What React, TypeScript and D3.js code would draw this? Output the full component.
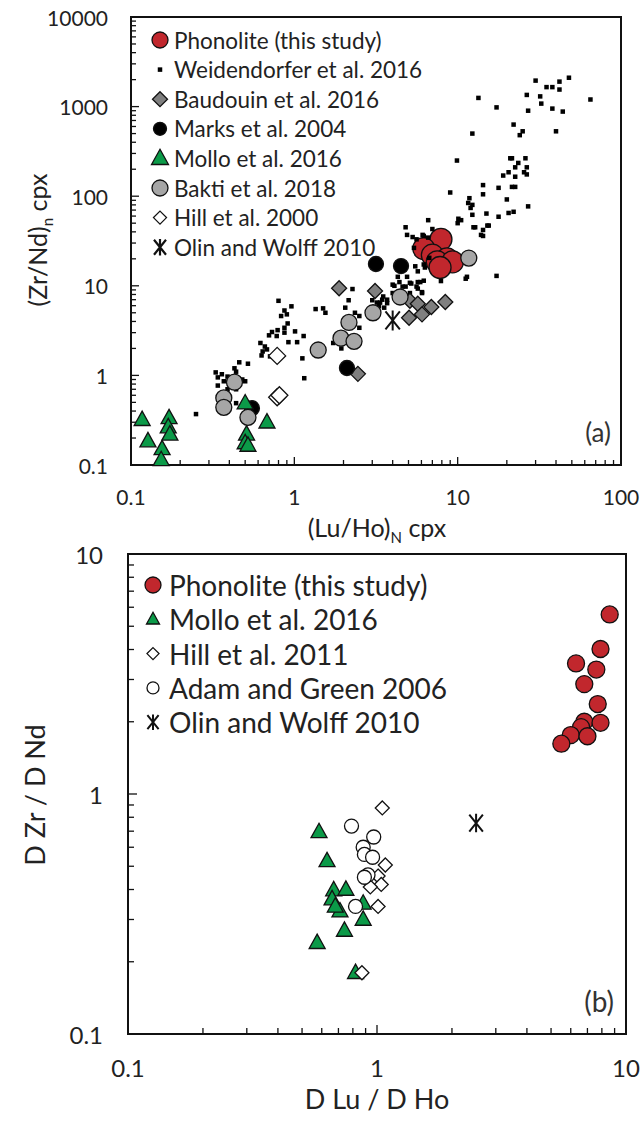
import * as d3 from 'd3';

const FONT = 'Lato, "Noto Sans", sans-serif';

// ---------- panel (a): (Zr/Nd)n vs (Lu/Ho)N, cpx ----------
const phonoAX = [7.9, 6.2, 7.0, 8.6, 7.5, 9.3, 7.8];
const phonoAY = [33, 26, 22, 20, 18.5, 18.5, 16];

const weidX = [
  30, 35, 38, 42, 42, 48, 13.4, 17.3, 26.5, 32, 32.5, 27, 38, 44, 65, 22, 25, 24, 40, 12.3,
  9.9, 21, 21.5, 26, 23.5, 22.5, 26.5, 25.5, 26.5, 20.5, 19, 22.5, 14.3, 17.8, 21.5, 22.5, 9, 14.3, 20, 11.8,
  11.6, 12.3, 12, 27, 15, 12.3, 20.5, 22, 17.8, 6.6, 10.1, 10, 4.8, 12.5, 15.2, 14.3, 13.9, 5.3, 6.1, 11.4,
  17.3, 5.6, 6.6, 6.2, 5.4, 6.7, 6.3, 5.7, 7.9, 11.2, 10.5, 12.8, 14.3, 15.5, 5.5, 6.2, 4.3, 4.9, 5.1, 5.7,
  6.2, 4, 5.7, 6.05, 4.6, 3.5, 3.7, 3.3, 3.45, 3.35, 3.55, 3.7, 4, 4.1, 4.4, 4.8, 5.2, 5.6, 6.05, 5.9,
  5.1, 7, 4.9, 0.8, 0.87, 0.96, 0.83, 0.9, 0.91, 0.87, 0.79, 0.73, 0.7, 0.78, 0.87, 1.01, 1.14, 0.92, 1.04, 0.62,
  0.66, 0.64, 0.68, 0.63, 0.71, 1.35, 1.5, 1.55, 1.12, 1.15, 0.46, 0.52, 0.43, 0.44, 0.33, 0.36, 0.39, 0.34, 0.37, 0.34,
  0.5, 0.48, 0.4, 0.44, 0.39, 0.44, 0.25, 2.27, 2.15, 2.05, 2.35, 2.5, 2.5, 1.73, 1.94, 3, 3.2,
];
const weidY = [
  1950, 1650, 1650, 1900, 1550, 2100, 1250, 980, 1350, 1300, 1080, 900, 950, 880, 1200, 630, 530, 480, 530, 500,
  250, 265, 265, 265, 235, 210, 210, 185, 175, 185, 170, 165, 133, 124, 127, 127, 110, 105, 92, 95,
  84, 80, 74, 77, 64, 62, 65, 67, 59, 54, 56, 50, 45, 45, 47, 42, 37, 35, 37, 12.6,
  12.9, 33, 34.5, 36, 26.5, 20.5, 16, 14.5, 11.3, 12, 54, 45, 36, 47, 16.5, 17.3, 12.6, 12.6, 10.8, 11,
  11.4, 10.3, 9.3, 8.5, 9.8, 7.6, 6.4, 5.9, 7, 6.5, 5.7, 7, 8.3, 10, 11, 9.8, 10.6, 9.8, 8.3, 11,
  8.3, 43, 37, 6.8, 5.3, 5.9, 4.6, 4.8, 3.8, 3.4, 3.2, 3.05, 2.8, 2.75, 3, 3.1, 2.75, 2.35, 2.35, 2.3,
  2.1, 1.85, 1.95, 1.67, 1.63, 5.5, 5.6, 5, 1.55, 0.93, 1.4, 1.35, 1.2, 1.1, 1.08, 1.03, 0.97, 0.95, 0.86, 0.77,
  0.86, 0.9, 0.81, 0.7, 0.7, 0.49, 0.37, 9.2, 6.9, 5.7, 5, 4.6, 3.4, 2.3, 2, 6.9, 6.5,
];

const baudX = [1.88, 3.12, 5.1, 5.7, 6.9, 8.4, 6.05, 5.04, 2.45];
const baudY = [9.4, 8.75, 6.8, 6.3, 5.8, 6.6, 4.8, 4.4, 1.04];

const marksX = [3.16, 4.5, 2.1, 0.55];
const marksY = [17.5, 16.6, 1.21, 0.43];

const molloAX = [0.117, 0.127, 0.155, 0.153, 0.171, 0.169, 0.173, 0.5, 0.51, 0.5, 0.52, 0.68];
const molloAY = [0.32, 0.185, 0.151, 0.114, 0.335, 0.265, 0.22, 0.49, 0.22, 0.176, 0.165, 0.3];

const baktiX = [0.43, 0.37, 0.37, 0.52, 1.4, 1.93, 2.32, 2.16, 3.03, 4.44, 11.7];
const baktiY = [0.84, 0.56, 0.44, 0.34, 1.92, 2.6, 2.4, 3.9, 5.0, 7.5, 20.4];

const hill2000X = [0.785, 0.785, 0.81];
const hill2000Y = [1.65, 0.57, 0.6];

const olinAX = [4.0];
const olinAY = [4.1];

// ---------- panel (b): D Zr / D Nd vs D Lu / D Ho ----------
const phonoBX = [8.6, 7.9, 6.3, 7.6, 6.8, 7.7, 6.8, 7.9, 6.6, 6.0, 7.0, 5.5];
const phonoBY = [5.6, 4.02, 3.5, 3.3, 2.87, 2.37, 2.0, 1.98, 1.9, 1.76, 1.74, 1.62];

const molloBX = [0.585, 0.63, 0.67, 0.75, 0.66, 0.71, 0.88, 0.88, 0.74, 0.575, 0.82, 0.68];
const molloBY = [0.695, 0.526, 0.398, 0.4, 0.365, 0.325, 0.35, 0.3, 0.27, 0.24, 0.18, 0.34];

const hill2011X = [1.05, 1.08, 1.01, 1.04, 0.94, 1.01, 0.87];
const hill2011Y = [0.875, 0.506, 0.455, 0.42, 0.41, 0.34, 0.18];

const adamX = [0.79, 0.97, 0.88, 0.89, 0.96, 0.92, 0.89, 0.82];
const adamY = [0.735, 0.662, 0.6, 0.56, 0.545, 0.46, 0.45, 0.34];

const olinBX = [2.5];
const olinBY = [0.757];

const legendA = [
  'Phonolite (this study)', 'Weidendorfer et al. 2016', 'Baudouin et al. 2016', 'Marks et al. 2004',
  'Mollo et al. 2016', 'Bakti et al. 2018', 'Hill et al. 2000', 'Olin and Wolff 2010',
];
const legendB = [
  'Phonolite (this study)', 'Mollo et al. 2016', 'Hill et al. 2011', 'Adam and Green 2006', 'Olin and Wolff 2010',
];

const ticksAX = [0.1, 1, 10, 100];
const ticksAY = [0.1, 1, 10, 100, 1000, 10000];
const ticksBX = [0.1, 1, 10];
const ticksBY = [0.1, 1, 10];

const RED = '#c1272d';
const GREEN = '#0b9a48';

type Sym = { shape: 'circle' | 'square' | 'diamond' | 'triangle' | 'star'; size: number; fill: string; sw?: number };

function Mark({ x, y, s }: { x: number; y: number; s: Sym }) {
  const { shape, size, fill, sw = 1.3 } = s;
  if (shape === 'circle') return <circle cx={x} cy={y} r={size} fill={fill} stroke="#111" strokeWidth={sw} />;
  if (shape === 'square') return <rect x={x - size / 2} y={y - size / 2} width={size} height={size} fill={fill} />;
  if (shape === 'diamond')
    return <path d={`M${x},${y - size}L${x + size},${y}L${x},${y + size}L${x - size},${y}Z`} fill={fill} stroke="#111" strokeWidth={sw} />;
  if (shape === 'triangle') {
    const h = size * 0.9;
    return <path d={`M${x},${y - h * 0.6}L${x + size / 2},${y + h * 0.4}L${x - size / 2},${y + h * 0.4}Z`} fill={fill} stroke="#111" strokeWidth={sw} />;
  }
  const w = size * 0.8;
  return (
    <path
      d={`M${x - w},${y - size}L${x + w},${y + size}M${x - w},${y + size}L${x + w},${y - size}M${x},${y - size * 1.1}L${x},${y + size * 1.1}`}
      stroke="#111" strokeWidth={sw} fill="none"
    />
  );
}

type Series = { xs: number[]; ys: number[]; sym: Sym; legendSym: Sym };

function Frame({ x, y, majX, majY, minLen, majLen, tickFont, yLabelRight, xLabelBase }: {
  x: d3.ScaleLogarithmic<number, number>; y: d3.ScaleLogarithmic<number, number>;
  majX: number[]; majY: number[]; minLen: number; majLen: number; tickFont: number; yLabelRight: number; xLabelBase: number;
}) {
  const [x0, x1] = x.range();
  const [y0, y1] = y.range();
  return (
    <g>
      {x.ticks().map((t, i) => {
        const len = majX.some((m) => Math.abs(m - t) < 1e-9) ? majLen : minLen;
        return <line key={'xt' + i} x1={x(t)} x2={x(t)} y1={y0} y2={y0 - len} stroke="#111" strokeWidth={1.3} />;
      })}
      {y.ticks().map((t, i) => {
        const len = majY.some((m) => Math.abs(m - t) < 1e-9) ? majLen : minLen;
        return <line key={'yt' + i} x1={x0} x2={x0 + len} y1={y(t)} y2={y(t)} stroke="#111" strokeWidth={1.3} />;
      })}
      <rect x={x0} y={y1} width={x1 - x0} height={y0 - y1} fill="none" stroke="#111" strokeWidth={2} />
      {majX.map((t) => (
        <text key={'xl' + t} x={x(t)} y={xLabelBase} fontSize={tickFont} textAnchor="middle" fill="#222">{String(t)}</text>
      ))}
      {majY.map((t) => (
        <text key={'yl' + t} x={yLabelRight} y={y(t)} fontSize={tickFont} textAnchor="end" dominantBaseline="central" fill="#222">{String(t)}</text>
      ))}
    </g>
  );
}

function Legend({ series, labels, x0, tx, y0, step, font }: { series: Series[]; labels: string[]; x0: number; tx: number; y0: number; step: number; font: number }) {
  return (
    <g>
      {series.map((s, i) => (
        <g key={i}>
          <Mark x={x0} y={y0 + i * step} s={s.legendSym} />
          <text x={tx} y={y0 + i * step} fontSize={font} dominantBaseline="central" fill="#222">{labels[i]}</text>
        </g>
      ))}
    </g>
  );
}

function Points({ series, x, y }: { series: Series[]; x: d3.ScaleLogarithmic<number, number>; y: d3.ScaleLogarithmic<number, number> }) {
  return (
    <g>
      {series.map((s, si) => (
        <g key={si}>
          {s.xs.map((v, i) => <Mark key={i} x={x(v)} y={y(s.ys[i])} s={s.sym} />)}
        </g>
      ))}
    </g>
  );
}

export default function App() {
  const xA = d3.scaleLog().domain([0.1, 100]).range([131, 621]);
  const yA = d3.scaleLog().domain([0.1, 10000]).range([465, 17]);
  const xB = d3.scaleLog().domain([0.1, 10]).range([128, 626]);
  const yB = d3.scaleLog().domain([0.1, 10]).range([1034, 554]);

  const seriesA: Series[] = [
    { xs: phonoAX, ys: phonoAY, sym: { shape: 'circle', size: 11, fill: RED }, legendSym: { shape: 'circle', size: 8, fill: RED } },
    { xs: weidX, ys: weidY, sym: { shape: 'square', size: 4.5, fill: '#000' }, legendSym: { shape: 'square', size: 4.5, fill: '#000' } },
    { xs: baudX, ys: baudY, sym: { shape: 'diamond', size: 7.5, fill: '#7f7f7f' }, legendSym: { shape: 'diamond', size: 7.5, fill: '#7f7f7f' } },
    { xs: marksX, ys: marksY, sym: { shape: 'circle', size: 7.5, fill: '#000' }, legendSym: { shape: 'circle', size: 6.5, fill: '#000' } },
    { xs: molloAX, ys: molloAY, sym: { shape: 'triangle', size: 16, fill: GREEN }, legendSym: { shape: 'triangle', size: 17, fill: GREEN } },
    { xs: baktiX, ys: baktiY, sym: { shape: 'circle', size: 8, fill: '#a6a6a6' }, legendSym: { shape: 'circle', size: 8, fill: '#a6a6a6' } },
    { xs: hill2000X, ys: hill2000Y, sym: { shape: 'diamond', size: 8.5, fill: '#fff' }, legendSym: { shape: 'diamond', size: 6.5, fill: '#fff' } },
    { xs: olinAX, ys: olinAY, sym: { shape: 'star', size: 9, fill: 'none', sw: 2 }, legendSym: { shape: 'star', size: 7.5, fill: 'none', sw: 2.2 } },
  ];
  const seriesB: Series[] = [
    { xs: phonoBX, ys: phonoBY, sym: { shape: 'circle', size: 8.5, fill: RED }, legendSym: { shape: 'circle', size: 8, fill: RED } },
    { xs: molloBX, ys: molloBY, sym: { shape: 'triangle', size: 16, fill: GREEN }, legendSym: { shape: 'triangle', size: 13, fill: GREEN } },
    { xs: hill2011X, ys: hill2011Y, sym: { shape: 'diamond', size: 7, fill: '#fff' }, legendSym: { shape: 'diamond', size: 6, fill: '#fff' } },
    { xs: adamX, ys: adamY, sym: { shape: 'circle', size: 7, fill: '#fff' }, legendSym: { shape: 'circle', size: 6, fill: '#fff' } },
    { xs: olinBX, ys: olinBY, sym: { shape: 'star', size: 8.5, fill: 'none', sw: 2 }, legendSym: { shape: 'star', size: 7, fill: 'none', sw: 2 } },
  ];

  return (
    <svg width={642} height={1124} style={{ position: 'absolute', left: 0, top: 0, background: '#fff' }} fontFamily={FONT}>
      <rect width={642} height={1124} fill="#fff" />

      {/* panel (a) */}
      <Frame x={xA} y={yA} majX={ticksAX} majY={ticksAY} minLen={5} majLen={8} tickFont={21} yLabelRight={108} xLabelBase={505} />
      <Points series={seriesA} x={xA} y={yA} />
      <Legend series={seriesA} labels={legendA} x0={160} tx={174} y0={40} step={29.6} font={22.5} />
      <text x={611} y={442} fontSize={26} textAnchor="end" fill="#333">(a)</text>
      <text x={377} y={537} fontSize={25} textAnchor="middle" fill="#222">
        (Lu/Ho)<tspan dy={6} fontSize={15}>N</tspan><tspan dy={-6}> cpx</tspan>
      </text>
      <text transform="translate(47,240) rotate(-90)" fontSize={25} textAnchor="middle" fill="#222">
        (Zr/Nd)<tspan dy={6} fontSize={15}>n</tspan><tspan dy={-6}> cpx</tspan>
      </text>

      {/* panel (b) */}
      <Frame x={xB} y={yB} majX={ticksBX} majY={ticksBY} minLen={6} majLen={9} tickFont={24} yLabelRight={103} xLabelBase={1077} />
      <Points series={seriesB} x={xB} y={yB} />
      <Legend series={seriesB} labels={legendB} x0={153} tx={169} y0={585} step={34.3} font={28} />
      <text x={614} y={1012} fontSize={28} textAnchor="end" fill="#333">(b)</text>
      <text x={377} y={1109} fontSize={27} textAnchor="middle" fill="#222">D Lu / D Ho</text>
      <text transform="translate(45,795) rotate(-90)" fontSize={27} textAnchor="middle" fill="#222">D Zr / D Nd</text>
    </svg>
  );
}
